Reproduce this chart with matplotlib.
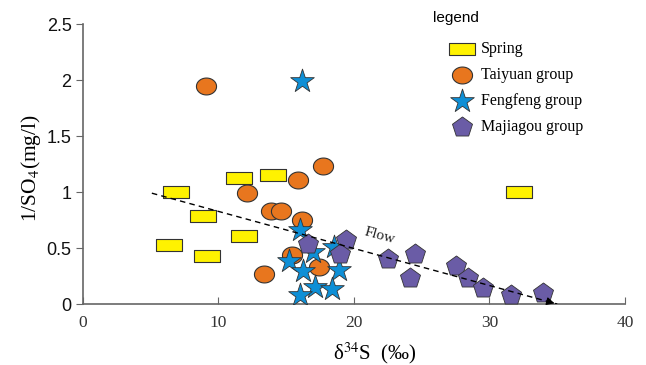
import numpy as np
import matplotlib.pyplot as plt
from matplotlib.path import Path

plt.rcParams['mathtext.fontset'] = 'stix'

# Spring
spring_x = [6.9, 11.5, 14.05, 8.9, 11.9, 6.4, 9.2, 32.2]
spring_y = [1.0, 1.13, 1.155, 0.785, 0.61, 0.53, 0.43, 1.0]

# Taiyuan group
taiyuan_x = [9.1, 17.75, 15.85, 12.1, 13.9, 14.65, 16.2, 15.45, 17.45, 13.4]
taiyuan_y = [1.945, 1.23, 1.11, 0.99, 0.83, 0.83, 0.75, 0.44, 0.33, 0.27]

# Fengfeng group
feng_x = [16.2, 16.0, 17.0, 18.55, 15.2, 16.25, 18.9, 17.1, 18.4, 16.0]
feng_y = [1.995, 0.665, 0.465, 0.505, 0.385, 0.295, 0.305, 0.15, 0.13, 0.08]

# Majiagou group
majia_x = [16.6, 19.45, 18.95, 22.5, 24.5, 24.15, 27.5, 28.4, 29.55, 31.6, 33.95]
majia_y = [0.54, 0.57, 0.45, 0.40, 0.445, 0.235, 0.34, 0.235, 0.14, 0.08, 0.10]

# flow arrow (start, end)
flow_x = [5.1, 35.0]
flow_y = [0.99, 0.0]

xticks = [0, 10, 20, 30, 40]
yticks = [0, 0.5, 1, 1.5, 2, 2.5]
ytick_labels = ['0', '0.5', '1', '1.5', '2', '2.5']

# custom marker shapes
rect_marker = Path([(-1, -0.46), (1, -0.46), (1, 0.46), (-1, 0.46), (-1, -0.46)],
                   [Path.MOVETO, Path.LINETO, Path.LINETO, Path.LINETO, Path.CLOSEPOLY])
t = np.linspace(0, 2 * np.pi, 60)
ell_marker = Path(np.column_stack([np.cos(t), 0.84 * np.sin(t)]))

fig = plt.figure(figsize=(6.46, 3.65), dpi=100)
ax = fig.add_axes([0.128, 0.167, 0.8395, 0.767])

edge = '#333333'
s1 = ax.scatter(spring_x, spring_y, marker=rect_marker, s=360, c='#FFF200',
                edgecolors=edge, linewidths=0.8, zorder=3, label='Spring')
s2 = ax.scatter(taiyuan_x, taiyuan_y, marker=ell_marker, s=210, c='#E8761E',
                edgecolors=edge, linewidths=0.8, zorder=4, label='Taiyuan group')
s3 = ax.scatter(feng_x, feng_y, marker='*', s=320, c='#0E8FD6',
                edgecolors=edge, linewidths=0.6, zorder=5, label='Fengfeng group')
s4 = ax.scatter(majia_x, majia_y, marker='p', s=230, c='#6A5CA6',
                edgecolors=edge, linewidths=0.6, zorder=6, label='Majiagou group')

# flow line
ax.plot(flow_x, flow_y, ls=(0, (4, 3)), color='black', lw=1.0, zorder=7)
ax.annotate('', xy=(flow_x[1], flow_y[1]),
            xytext=(flow_x[1] - 0.6, flow_y[1] + 0.02),
            arrowprops=dict(arrowstyle='-|>', color='black', lw=0.8,
                            mutation_scale=12), zorder=8)
ax.text(21.8, 0.555, 'Flow', rotation=-15.5, rotation_mode='anchor',
        ha='center', va='bottom', family='Liberation Serif', fontsize=11,
        color='#222222', zorder=8)

ax.set_xlim(0, 40)
ax.set_ylim(0, 2.5)
for side in ['top', 'right']:
    ax.spines[side].set_visible(False)
for side in ['left', 'bottom']:
    ax.spines[side].set_color('#666666')
    ax.spines[side].set_linewidth(1.2)

ax.set_xticks(xticks)
ax.set_xticklabels([str(v) for v in xticks], family='Liberation Serif',
                   fontsize=12.5, color='#333333')
ax.set_yticks(yticks)
ax.set_yticklabels(ytick_labels, family='Liberation Sans', fontsize=13,
                   color='#111111')
ax.tick_params(axis='x', direction='in', length=5, color='#666666', pad=8)
ax.tick_params(axis='y', direction='out', length=5, color='#666666', pad=3)

# axis titles placed like the original figure
fig.text(375 / 646, 1 - 353 / 365, 'δ$^{34}$S  (‰)', family='Liberation Serif',
         fontsize=15, ha='center', va='center')
fig.text(31 / 646, 1 - 168 / 365, r'1/SO$_{4}$(mg/l)', family='Liberation Serif',
         fontsize=15.5, ha='center', va='center', rotation=90)

fig.text(433 / 646, 1 - 18 / 365, 'legend', family='Liberation Sans',
         fontsize=11, ha='left', va='center')
leg = ax.legend(handles=[s1, s2, s3, s4], loc='upper left',
                bbox_to_anchor=(438 / 646, 1 - 33 / 365),
                bbox_transform=fig.transFigure, frameon=False,
                prop={'family': 'Liberation Serif', 'size': 11.5},
                labelspacing=0.62, handletextpad=0.2, borderpad=0,
                handlelength=2.0, scatterpoints=1)

fig.savefig('out.png', dpi=100)
